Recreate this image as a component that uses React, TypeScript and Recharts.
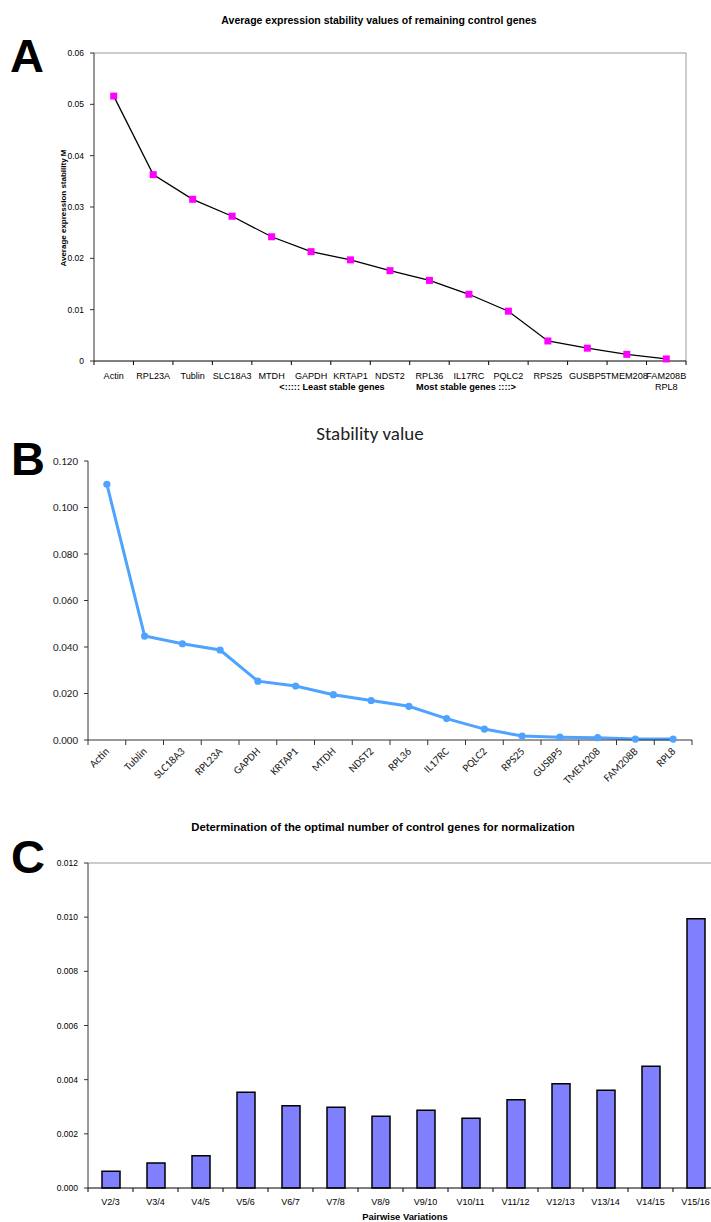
import React from 'react';
import { LineChart, Line, BarChart, Bar, XAxis, YAxis, CartesianGrid } from 'recharts';

// panel A: geNorm average expression stability M
const genesA = ['Actin', 'RPL23A', 'Tublin', 'SLC18A3', 'MTDH', 'GAPDH', 'KRTAP1', 'NDST2', 'RPL36', 'IL17RC', 'PQLC2', 'RPS25', 'GUSBP5', 'TMEM208', 'FAM208B RPL8'];
const stabilityA = [0.0516, 0.0363, 0.0315, 0.0282, 0.0242, 0.0213, 0.0197, 0.0176, 0.0157, 0.013, 0.0097, 0.0039, 0.0025, 0.0013, 0.0004];
const ticksA = [0, 0.01, 0.02, 0.03, 0.04, 0.05, 0.06];

// panel B: stability value
const genesB = ['Actin', 'Tublin', 'SLC18A3', 'RPL23A', 'GAPDH', 'KRTAP1', 'MTDH', 'NDST2', 'RPL36', 'IL17RC', 'PQLC2', 'RPS25', 'GUSBP5', 'TMEM208', 'FAM208B', 'RPL8'];
const stabilityB = [0.11, 0.0447, 0.0414, 0.0387, 0.0253, 0.0232, 0.0195, 0.017, 0.0145, 0.0092, 0.0047, 0.0017, 0.0012, 0.001, 0.0004, 0.0004];
const ticksB = [0, 0.02, 0.04, 0.06, 0.08, 0.1, 0.12];

// panel C: pairwise variation
const pairs = ['V2/3', 'V3/4', 'V4/5', 'V5/6', 'V6/7', 'V7/8', 'V8/9', 'V9/10', 'V10/11', 'V11/12', 'V12/13', 'V13/14', 'V14/15', 'V15/16'];
const pairwiseV = [0.00062, 0.00092, 0.00119, 0.00354, 0.00304, 0.00298, 0.00265, 0.00287, 0.00258, 0.00326, 0.00385, 0.00361, 0.0045, 0.00994];
const ticksC = [0, 0.002, 0.004, 0.006, 0.008, 0.01, 0.012];

const dataA = genesA.map((g, i) => ({ gene: g, m: stabilityA[i] }));
const dataB = genesB.map((g, i) => ({ gene: g, v: stabilityB[i] }));
const dataC = pairs.map((p, i) => ({ pair: p, v: pairwiseV[i] }));

const ARIAL = '"Liberation Sans", Arial, sans-serif';
const CALIBRI = 'Carlito, Lato, sans-serif';

const bwA = (686 - 94) / genesA.length;
const bwB = (692 - 88) / genesB.length;
const bwC = (718 - 88) / pairs.length;

// frame lines (top + right) taken from the chart's own offset
const frameTop = (p: any) => [p?.offset?.top ?? 0];
const frameRight = (p: any) => [(p?.offset?.left ?? 0) + (p?.offset?.width ?? 0)];

function TickA(props: any) {
  const { x, payload, index } = props;
  const lines = String(payload.value).split(' ');
  return (
    <g>
      <line x1={x - bwA / 2} x2={x - bwA / 2} y1={361} y2={365} stroke="#000" />
      {index === genesA.length - 1 && <line x1={x + bwA / 2} x2={x + bwA / 2} y1={361} y2={365} stroke="#000" />}
      {lines.map((l, i) => (
        <text key={i} x={x} y={379 + i * 10.5} textAnchor="middle" fontSize={9.1} fontFamily={ARIAL} fill="#000">{l}</text>
      ))}
    </g>
  );
}

function TickB(props: any) {
  const { x, payload, index } = props;
  const ty = 352;
  return (
    <g>
      <line x1={x - bwB / 2} x2={x - bwB / 2} y1={340} y2={345} stroke="#333" />
      {index === genesB.length - 1 && <line x1={x + bwB / 2} x2={x + bwB / 2} y1={340} y2={345} stroke="#333" />}
      <text x={x + 3} y={ty} textAnchor="end" fontSize={11} fontFamily={CALIBRI} fill="#222"
        transform={`rotate(-45, ${x + 3}, ${ty})`}>{payload.value}</text>
    </g>
  );
}

function TickC(props: any) {
  const { x, payload, index } = props;
  return (
    <g>
      <line x1={x - bwC / 2} x2={x - bwC / 2} y1={388} y2={392} stroke="#000" />
      {index === pairs.length - 1 && <line x1={x + bwC / 2} x2={x + bwC / 2} y1={388} y2={392} stroke="#000" />}
      <text x={x} y={405} textAnchor="middle" fontSize={9} fontFamily={ARIAL} fill="#000">{payload.value}</text>
    </g>
  );
}

const SquareDot = (props: any) => {
  const { cx, cy, index } = props;
  return <rect key={index} x={cx - 3.5} y={cy - 3.5} width={7} height={7} fill="#FF00FF" />;
};

const RoundDot = (props: any) => {
  const { cx, cy, index } = props;
  return <circle key={index} cx={cx} cy={cy} r={3.6} fill="#4DA3FF" />;
};

export default function App() {
  return (
    <div style={{ position: 'absolute', left: 0, top: 0, width: 711, height: 1222, overflow: 'hidden', background: '#fff' }}>
      {/* A */}
      <div style={{ position: 'absolute', left: 0, top: 0 }}>
        <LineChart width={711} height={400} data={dataA} margin={{ top: 53, right: 25, bottom: 9, left: 54 }}>
          <CartesianGrid stroke="#999" horizontalCoordinatesGenerator={frameTop} verticalCoordinatesGenerator={frameRight} />
          <XAxis dataKey="gene" interval={0} height={30} padding={{ left: bwA / 2, right: bwA / 2 }}
            tick={<TickA />} tickLine={false} axisLine={{ stroke: '#000' }} />
          <YAxis domain={[0, 0.06]} ticks={ticksA} width={40} tickSize={4} tickMargin={6}
            tickFormatter={(v: number) => (v === 0 ? '0' : v.toFixed(2))}
            tick={{ fontSize: 8.5, fontFamily: ARIAL, fill: '#000' }}
            axisLine={{ stroke: '#333' }} tickLine={{ stroke: '#333' }} />
          <Line dataKey="m" stroke="#000" strokeWidth={1.3} dot={<SquareDot />} isAnimationActive={false} />
        </LineChart>
      </div>

      {/* B */}
      <div style={{ position: 'absolute', left: 0, top: 400 }}>
        <LineChart width={711} height={400} data={dataB} margin={{ top: 61, right: 19, bottom: 10, left: 48 }}>
          <XAxis dataKey="gene" interval={0} height={50} padding={{ left: bwB / 2, right: bwB / 2 }}
            tick={<TickB />} tickLine={false} axisLine={{ stroke: '#333' }} />
          <YAxis domain={[0, 0.12]} ticks={ticksB} width={40} tickSize={4} tickMargin={6}
            tickFormatter={(v: number) => v.toFixed(3)}
            tick={{ fontSize: 11, fontFamily: CALIBRI, fill: '#222' }}
            axisLine={{ stroke: '#333' }} tickLine={{ stroke: '#333' }} />
          <Line dataKey="v" stroke="#4DA3FF" strokeWidth={3} dot={<RoundDot />} isAnimationActive={false} />
        </LineChart>
      </div>

      {/* C */}
      <div style={{ position: 'absolute', left: 0, top: 800 }}>
        <BarChart width={730} height={422} data={dataC} margin={{ top: 63, right: 12, bottom: 4, left: 48 }}>
          <CartesianGrid stroke="#999" vertical={false} horizontalCoordinatesGenerator={frameTop} />
          <XAxis dataKey="pair" interval={0} height={30} tick={<TickC />} tickLine={false} axisLine={{ stroke: '#000' }} />
          <YAxis domain={[0, 0.012]} ticks={ticksC} width={40} tickSize={4} tickMargin={6}
            tickFormatter={(v: number) => v.toFixed(3)}
            tick={{ fontSize: 8.5, fontFamily: ARIAL, fill: '#000' }}
            axisLine={{ stroke: '#333' }} tickLine={{ stroke: '#333' }} />
          <Bar dataKey="v" fill="#8080FF" stroke="#000" strokeWidth={1.5} barSize={18} isAnimationActive={false} />
        </BarChart>
      </div>

      {/* labels and titles */}
      <svg width={711} height={1222} style={{ position: 'absolute', left: 0, top: 0, pointerEvents: 'none' }}>
        <g fontFamily={ARIAL} fontWeight="bold" fill="#000">
          <text x={10} y={72} fontSize={47}>A</text>
          <text x={11} y={475} fontSize={47}>B</text>
          <text x={11} y={873} fontSize={47}>C</text>
          <text x={379} y={24} fontSize={10.5} textAnchor="middle">Average expression stability values of remaining control genes</text>
          <text x={0} y={0} fontSize={8} textAnchor="middle" transform="translate(66, 208) rotate(-90)">Average expression stability M</text>
          <text x={332} y={389.5} fontSize={9.2} textAnchor="middle">{'<::::: Least stable genes'}</text>
          <text x={466} y={389.5} fontSize={9.2} textAnchor="middle">{'Most stable genes ::::>'}</text>
          <text x={383} y={831} fontSize={11.3} textAnchor="middle">Determination of the optimal number of control genes for normalization</text>
          <text x={405} y={1220} fontSize={9.4} textAnchor="middle">Pairwise Variations</text>
        </g>
        <text x={370} y={440} fontSize={19} textAnchor="middle" fontFamily={CALIBRI} fill="#222">Stability value</text>
      </svg>
    </div>
  );
}
